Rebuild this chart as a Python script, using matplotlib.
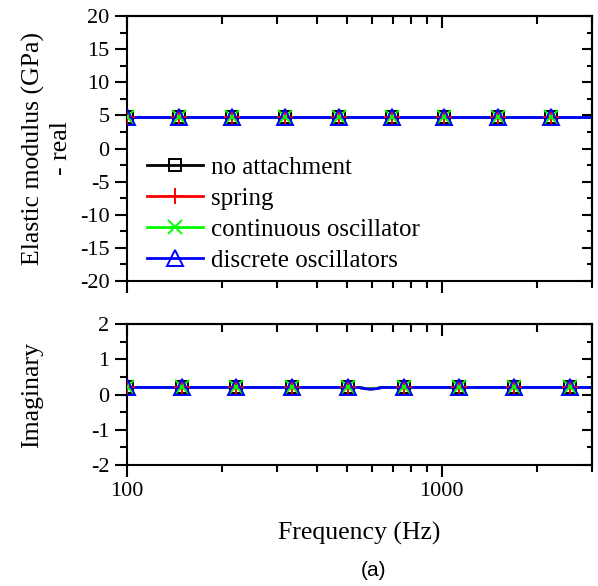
import matplotlib
matplotlib.use("Agg")
import matplotlib.pyplot as plt
from matplotlib.ticker import MultipleLocator, LogLocator, NullFormatter, FixedLocator, FixedFormatter
from matplotlib.lines import Line2D

# ---- data ----
series_names = ["no attachment", "spring", "continuous oscillator", "discrete oscillators"]
series_colors = ["black", "red", "#00ff00", "blue"]
series_markers = ["s", "+", "x", "^"]

# real part (GPa)
real_freq = [100, 3000]
real_vals = {
    "no attachment": [4.7, 4.7],
    "spring": [4.7, 4.7],
    "continuous oscillator": [4.7, 4.7],
    "discrete oscillators": [4.7, 4.7],
}
real_marker_freq = [100, 146, 216, 318, 470, 693, 1014, 1507, 2223]
real_marker_val = [4.7, 4.7, 4.7, 4.7, 4.7, 4.7, 4.7, 4.7, 4.7]

# imaginary part
imag_freq = [100, 545, 570, 595, 620, 645, 3000]
imag_vals = {
    "no attachment": [0.2, 0.2, 0.17, 0.16, 0.17, 0.2, 0.2],
    "spring": [0.2, 0.2, 0.17, 0.16, 0.17, 0.2, 0.2],
    "continuous oscillator": [0.2, 0.2, 0.17, 0.16, 0.17, 0.2, 0.2],
    "discrete oscillators": [0.2, 0.2, 0.165, 0.15, 0.165, 0.2, 0.2],
}
imag_marker_freq = [100, 149, 222, 335, 502, 757, 1133, 1695, 2556]
imag_marker_val = [0.2, 0.2, 0.2, 0.2, 0.2, 0.2, 0.2, 0.2, 0.2]

x_tick_vals = [100, 1000]
x_tick_labels = ["100", "1000"]

# ---- style ----
W, H = 598, 586
plt.rcParams["font.family"] = ["Liberation Serif", "DejaVu Serif"]
plt.rcParams["axes.unicode_minus"] = False
fig = plt.figure(figsize=(W / 100, H / 100), dpi=100)

left = 127 / W
right = 592 / W
ax1 = fig.add_axes([left, 1 - 281 / H, right - left, (281 - 16) / H])
ax2 = fig.add_axes([left, 1 - 465 / H, right - left, (465 - 324) / H])

LW_AX = 1.5
TICK_FS = 16
marker_sizes = {"s": 8.5, "+": 12, "x": 10.5, "^": 11}


def style_axes(ax, ylim, ymaj, ymin, show_xlabels):
    ax.set_xscale("log")
    ax.set_xlim(100, 3000)
    ax.set_ylim(*ylim)
    for s in ax.spines.values():
        s.set_linewidth(LW_AX)
    ax.yaxis.set_major_locator(MultipleLocator(ymaj))
    ax.yaxis.set_minor_locator(MultipleLocator(ymin))
    ax.xaxis.set_major_locator(FixedLocator(x_tick_vals))
    ax.xaxis.set_minor_locator(LogLocator(base=10, subs=range(2, 10)))
    ax.xaxis.set_minor_formatter(NullFormatter())
    if show_xlabels:
        ax.xaxis.set_major_formatter(FixedFormatter(x_tick_labels))
    else:
        ax.xaxis.set_major_formatter(NullFormatter())
    ax.tick_params(which="major", direction="out", length=8.6, width=LW_AX,
                   labelsize=TICK_FS, top=False, right=False)
    ax.tick_params(which="minor", direction="out", length=4.8, width=LW_AX,
                   top=False, right=False)
    ax.tick_params(axis="y", which="major", pad=4)
    ax.tick_params(axis="x", which="major", pad=4)
    # mirrored inward ticks
    sx = ax.secondary_xaxis("top")
    sx.set_xscale("log")
    sx.xaxis.set_major_locator(FixedLocator(x_tick_vals))
    sx.xaxis.set_minor_locator(LogLocator(base=10, subs=range(2, 10)))
    sx.xaxis.set_major_formatter(NullFormatter())
    sx.xaxis.set_minor_formatter(NullFormatter())
    sx.tick_params(which="major", direction="in", length=8.6, width=LW_AX)
    sx.tick_params(which="minor", direction="in", length=5.5, width=LW_AX)
    sy = ax.secondary_yaxis("right")
    sy.yaxis.set_major_locator(MultipleLocator(ymaj))
    sy.yaxis.set_minor_locator(MultipleLocator(ymin))
    sy.yaxis.set_major_formatter(NullFormatter())
    sy.tick_params(which="major", direction="in", length=7, width=LW_AX)
    sy.tick_params(which="minor", direction="in", length=3.6, width=LW_AX)
    for s in list(sx.spines.values()) + list(sy.spines.values()):
        s.set_linewidth(LW_AX)


style_axes(ax1, (-20, 20), 5, 2.5, False)
style_axes(ax2, (-2, 2), 1, 0.5, True)

for name, col, mk in zip(series_names, series_colors, series_markers):
    ax1.plot(real_freq, real_vals[name], color=col, lw=2.0, zorder=2)
    ax1.plot(real_marker_freq, real_marker_val, linestyle="none", marker=mk,
             markersize=marker_sizes[mk], markerfacecolor="none", markeredgecolor=col,
             markeredgewidth=1.4, zorder=3)
    ax2.plot(imag_freq, imag_vals[name], color=col, lw=2.0, zorder=2)
    ax2.plot(imag_marker_freq, imag_marker_val, linestyle="none", marker=mk,
             markersize=marker_sizes[mk], markerfacecolor="none", markeredgecolor=col,
             markeredgewidth=1.4, zorder=3)

# legend
handles = [Line2D([], [], color=c, lw=2.0, marker=m, markersize=marker_sizes[m],
                  markerfacecolor="none", markeredgecolor=c, markeredgewidth=1.4)
           for c, m in zip(series_colors, series_markers)]
ax1.legend(handles, series_names, loc="lower left", bbox_to_anchor=(0.043, 0.035),
           frameon=False, fontsize=18, handlelength=2.25, handletextpad=0.3,
           labelspacing=0.34, borderaxespad=0, borderpad=0)

ax1.set_ylabel("Elastic modulus (GPa)\n- real", fontsize=18.5, linespacing=1.3)
ax1.yaxis.set_label_coords(-127 / 465 + 47 / 465, 0.5)
ax2.set_ylabel("Imaginary", fontsize=18.5)
ax2.yaxis.set_label_coords(-127 / 465 + 32 / 465, 0.5)
ax2.set_xlabel("Frequency (Hz)", fontsize=18.5)
ax2.xaxis.set_label_coords(0.5, -(533 - 465) / 141)
ax2.xaxis.label.set_va("center")
ax2.yaxis.label.set_va("center")
ax1.yaxis.label.set_va("center")
fig.text(373 / W, 1 - 570 / H, "(a)", ha="center", va="center",
         fontsize=15, family="Liberation Sans")

fig.savefig("out.png", dpi=100)
